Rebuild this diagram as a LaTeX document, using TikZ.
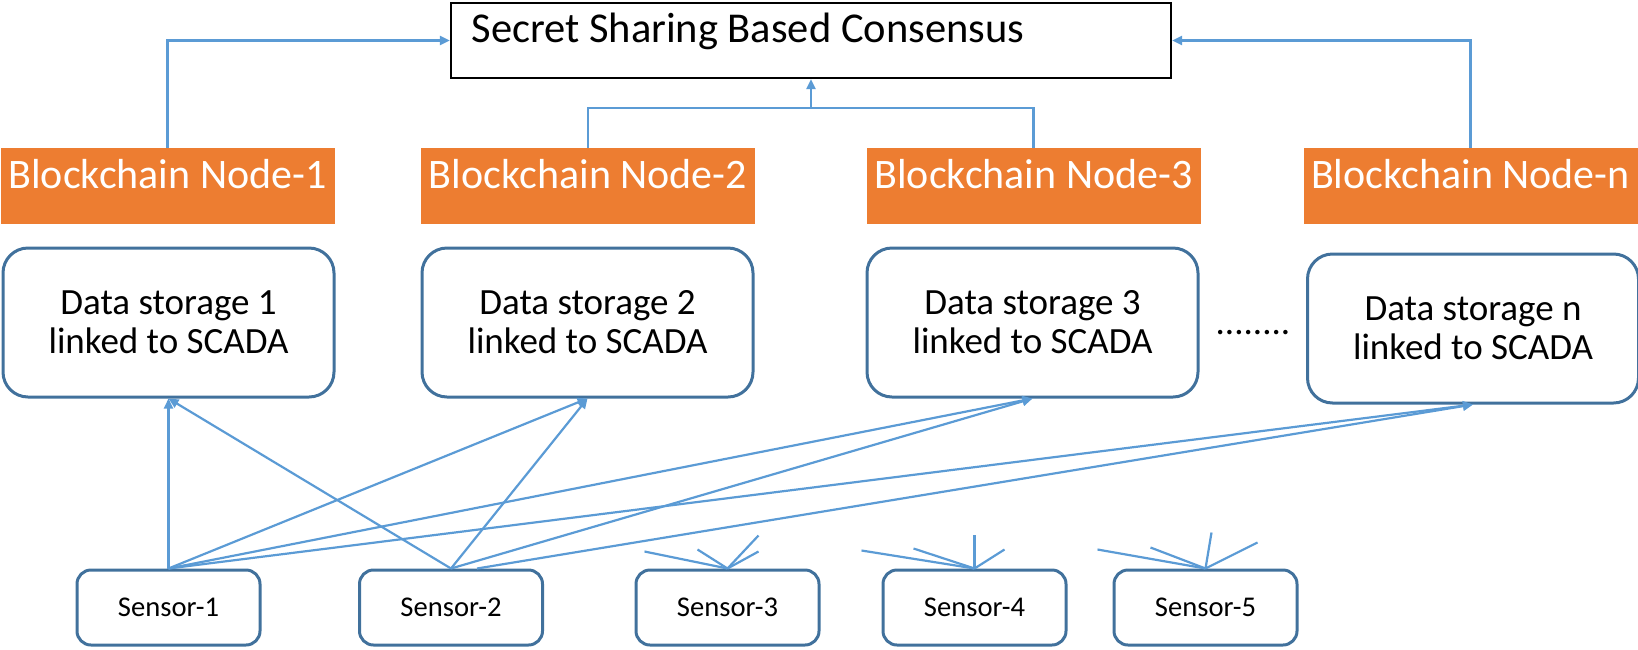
\documentclass[tikz,border=0pt]{standalone}
\usepackage{fontspec}
\setmainfont{Carlito}
\usetikzlibrary{arrows.meta}
\definecolor{chainorange}{HTML}{ED7D31}
\definecolor{linkblue}{HTML}{5B9BD5}
\definecolor{boxblue}{HTML}{41719C}

\begin{document}
\begin{tikzpicture}[x=0.5pt, y=-0.5pt,
  consensus/.style={draw=black, line width=1.1pt, minimum width=360pt, minimum height=37.5pt,
    inner sep=0pt, text width=339.5pt, align=justify, text height=13.5pt, text depth=12pt,
    font=\fontsize{21.25}{25}\selectfont},
  chain/.style={fill=chainorange, text=white, minimum width=167pt, minimum height=38pt,
    inner sep=0pt, text height=13pt, text depth=11pt, font=\fontsize{21}{25}\selectfont},
  storage/.style={draw=boxblue, line width=1.5pt, rounded corners=12.5pt, minimum width=165.5pt,
    minimum height=74.5pt, align=center, font=\fontsize{18.5}{19.5}\selectfont},
  sensor/.style={draw=boxblue, line width=1.5pt, rounded corners=7pt, minimum width=91.5pt,
    minimum height=37.5pt, font=\fontsize{14.3}{17}\selectfont},
  link/.style={draw=linkblue, line width=1.1pt},
  feed/.style={link, -{Triangle[length=5pt, width=4.5pt]}}]
  \useasboundingbox (0, 0) rectangle (1638, 649);

  % Consensus layer
  \node[consensus] (cons) at (811, 40.5) {Secret Sharing Based Consensus};

  % Blockchain nodes
  \node[chain] (n1) at (167.5, 186)  {Blockchain Node-1};
  \node[chain] (n2) at (588, 186)    {Blockchain Node-2};
  \node[chain] (n3) at (1033.5, 186) {Blockchain Node-3};
  \node[chain] (nn) at (1470.5, 186) {Blockchain Node-n};

  % Data storages
  \node[storage] (ds1) at (168.5, 322.5)  {Data storage 1\\linked to SCADA};
  \node[storage] (ds2) at (587.5, 322.5)  {Data storage 2\\linked to SCADA};
  \node[storage] (ds3) at (1032.5, 322.5) {Data storage 3\\linked to SCADA};
  \node[storage] (dsn) at (1473, 328.5)   {Data storage n\\linked to SCADA};
  \node[anchor=base, font=\fontsize{18.5}{19.5}\selectfont] (dots) at (1253, 334) {........};

  % Sensors
  \node[sensor] (s1) at (168.5, 607.5)  {Sensor-1};
  \node[sensor] (s2) at (451, 607.5)    {Sensor-2};
  \node[sensor] (s3) at (727.5, 607.5)  {Sensor-3};
  \node[sensor] (s4) at (974.5, 607.5)  {Sensor-4};
  \node[sensor] (s5) at (1205.5, 607.5) {Sensor-5};

  % Blockchain nodes to consensus
  \coordinate (join) at (811, 108);
  \draw[feed] (n1.north) |- (cons.west);
  \draw[feed] (nn.north) |- (cons.east);
  \draw[link] (n2.north) |- (join) -| (n3.north);
  \draw[feed] (join) -- (cons.south);

  % Sensors to data storages
  \foreach \d in {ds1, ds2, ds3, dsn} {
    \draw[feed] (s1.north) -- (\d.south);
  }
  \foreach \d in {ds1, ds2, ds3} {
    \draw[feed] (s2.north) -- (\d.south);
  }
  \draw[feed] ([xshift=13pt]s2.north) -- (dsn.south);

  % Stubs above the other sensors
  \foreach \dx/\dy in {-83/-17, -30/-19, 31/-33, 31/-17}
    \draw[link] (s3.north) -- ++(\dx, \dy);
  \foreach \dx/\dy in {-113/-18, -61/-20, 0/-34, 30/-19}
    \draw[link] (s4.north) -- ++(\dx, \dy);
  \foreach \dx/\dy in {-108/-19, -55/-21, 6/-36, 52/-26}
    \draw[link] (s5.north) -- ++(\dx, \dy);
\end{tikzpicture}
\end{document}
